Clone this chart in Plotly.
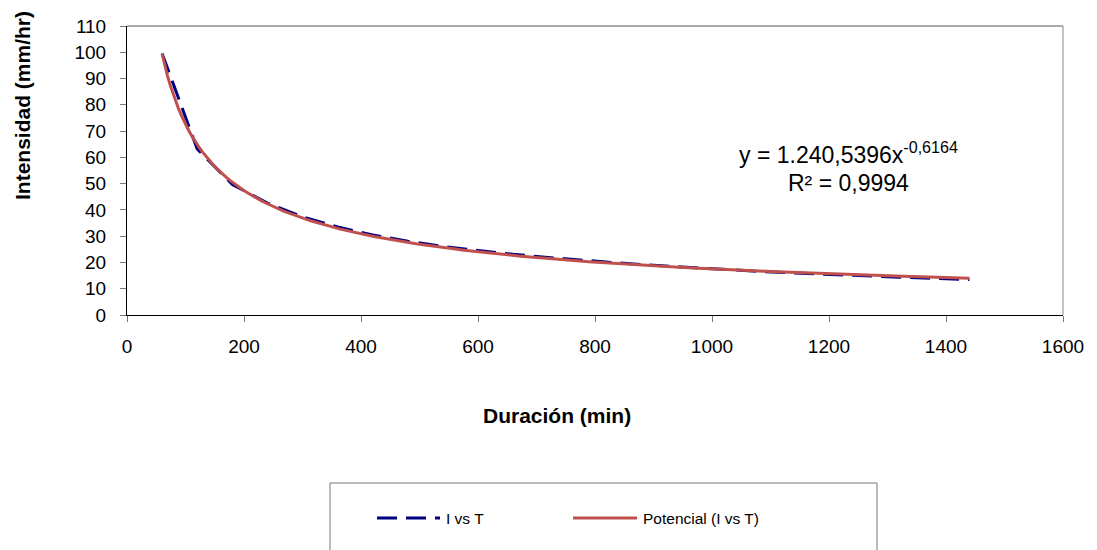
import numpy as np
import plotly.graph_objects as go

# Data
duracion = [60, 120, 180, 240, 300, 360, 420, 480, 540, 600, 660, 720,
            780, 840, 900, 960, 1020, 1080, 1140, 1200, 1260, 1320, 1380, 1440]
intensidad = [99.5, 63.2, 49.7, 42.6, 37.4, 33.5, 30.5, 28.1, 26.1, 24.5, 23.1, 21.9,
              20.8, 19.8, 18.9, 18.1, 17.3, 16.6, 16.0, 15.4, 14.9, 14.4, 13.9, 13.5]

# Power trendline coefficients shown on the chart
coef_a = 1240.5396
coef_b = -0.6164

x_ticks = [0, 200, 400, 600, 800, 1000, 1200, 1400, 1600]
y_ticks = list(range(0, 111, 10))

FONT = "Arial, Liberation Sans, sans-serif"
NAVY = "#000080"
RED = "#C0504D"

xt = np.linspace(min(duracion), max(duracion), 300)
yt = coef_a * xt ** coef_b

fig = go.Figure()
fig.add_trace(go.Scatter(x=duracion, y=intensidad, mode="lines", name="I vs T",
                         line=dict(color=NAVY, width=3, dash="20px,9px")))
fig.add_trace(go.Scatter(x=xt, y=yt, mode="lines", name="Potencial (I vs T)",
                         line=dict(color=RED, width=3)))

L, R, T, B = 127, 34, 26, 235
W, H = 1097, 550
pw, ph = W - L - R, H - T - B


def px(xp):
    return (xp - L) / pw


def py(yp):
    return (H - B - yp) / ph


fig.update_layout(
    width=W, height=H,
    margin=dict(l=L, r=R, t=T, b=B),
    paper_bgcolor="white", plot_bgcolor="white",
    showlegend=False,
    font=dict(family=FONT, color="black"),
)
fig.update_xaxes(range=[0, 1600], tickvals=x_ticks, showgrid=False, zeroline=False,
                 showline=True, linecolor="black", linewidth=1,
                 ticks="outside", ticklen=6, tickcolor="#777", tickwidth=1,
                 tickfont=dict(size=19, family=FONT, color="black"),
                 ticklabelstandoff=8)
fig.update_yaxes(range=[0, 110], tickvals=y_ticks, showgrid=False, zeroline=False,
                 showline=True, linecolor="black", linewidth=1,
                 ticks="outside", ticklen=6, tickcolor="#777", tickwidth=1,
                 tickfont=dict(size=19, family=FONT, color="black"),
                 ticklabelstandoff=10)

LEG_Y = 518
shapes = [
    # plot frame top/right
    dict(type="line", xref="paper", yref="paper", x0=0, x1=1, y0=1, y1=1,
         line=dict(color="#555", width=1)),
    dict(type="line", xref="paper", yref="paper", x0=1, x1=1, y0=0, y1=1,
         line=dict(color="#888", width=1)),
    # legend box
    dict(type="rect", xref="paper", yref="paper", x0=px(330), x1=px(877),
         y0=py(483), y1=py(570), line=dict(color="#777", width=1),
         fillcolor="rgba(0,0,0,0)"),
    dict(type="line", xref="paper", yref="paper", x0=px(377), x1=px(440),
         y0=py(LEG_Y), y1=py(LEG_Y), line=dict(color=NAVY, width=3, dash="20px,9px")),
    dict(type="line", xref="paper", yref="paper", x0=px(573), x1=px(637),
         y0=py(LEG_Y), y1=py(LEG_Y), line=dict(color=RED, width=3)),
]
fig.update_layout(shapes=shapes)

annotations = [
    dict(text="<b>Duración (min)</b>", xref="paper", yref="paper",
         x=px(557), y=py(415), showarrow=False, xanchor="center", yanchor="middle",
         font=dict(size=21, family=FONT, color="black")),
    dict(text="<b>Intensidad (mm/hr)</b>", xref="paper", yref="paper",
         x=px(22), y=py(106), showarrow=False, xanchor="center", yanchor="middle",
         textangle=-90, font=dict(size=21, family=FONT, color="black")),
    dict(text="y = 1.240,5396x<sup>-0,6164</sup>", xref="paper", yref="paper",
         x=px(848), y=py(153), showarrow=False, xanchor="center", yanchor="middle",
         font=dict(size=23, family=FONT, color="black")),
    dict(text="R² = 0,9994", xref="paper", yref="paper",
         x=px(848), y=py(183), showarrow=False, xanchor="center", yanchor="middle",
         font=dict(size=23, family=FONT, color="black")),
    dict(text="I vs T", xref="paper", yref="paper", x=px(444), y=py(LEG_Y),
         showarrow=False, xanchor="left", yanchor="middle",
         font=dict(size=15.5, family=FONT, color="black")),
    dict(text="Potencial (I vs T)", xref="paper", yref="paper", x=px(641), y=py(LEG_Y),
         showarrow=False, xanchor="left", yanchor="middle",
         font=dict(size=15.5, family=FONT, color="black")),
]
fig.update_layout(annotations=annotations)

fig.write_html("out.html", config={"displayModeBar": False},
               post_script="document.body.style.margin='0';")
